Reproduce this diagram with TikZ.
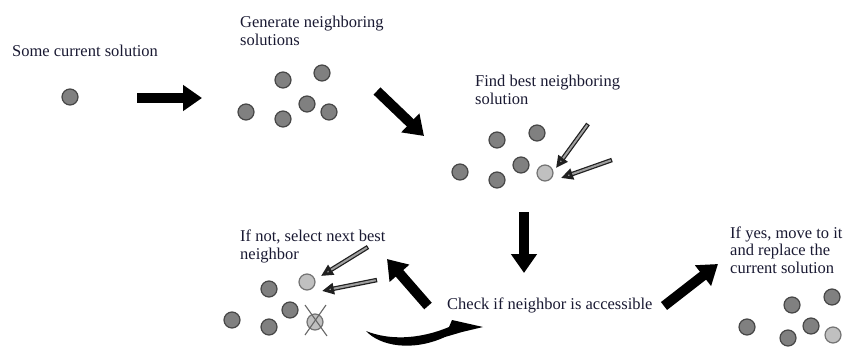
\documentclass[tikz,border=0pt]{standalone}
\usepackage{fontspec}
\setmainfont{Liberation Serif}
\usetikzlibrary{arrows.meta}
\definecolor{dotfill}{RGB}{128,128,128}
\definecolor{dotedge}{RGB}{70,70,70}
\definecolor{bestfill}{RGB}{192,192,192}
\definecolor{bestedge}{RGB}{115,115,115}
\definecolor{caption}{RGB}{25,25,50}

\begin{document}
\begin{tikzpicture}[x=1pt, y=-1pt,
    sol/.style={circle, fill=dotfill, draw=dotedge, line width=1.2pt,
                minimum size=16pt, inner sep=0pt},
    best/.style={sol, fill=bestfill, draw=bestedge},
    note/.style={anchor=base west, align=left, inner sep=0pt, text=caption,
                 font=\fontsize{16.5}{17.5}\selectfont},
    bigarrow/.style={line width=10pt, -{Triangle[length=19pt, width=25pt]}},
    hintout/.style={draw=gray!25!black, line width=4.5pt,
                    -{Triangle[length=12pt, width=11pt, fill=gray!70]}},
    hintin/.style={draw=gray!75, line width=2pt, shorten >=12pt, shorten <=1.2pt},
    xmark/.style={draw=gray!80!black, line width=1.1pt}]
  \useasboundingbox (0,0) rectangle (845,348);

  % Current solution
  \node[note] (t1) at (12,56) {Some current solution};
  \node[sol] (c0) at (70,97) {};

  % Neighboring solutions
  \node[note] (t2) at (240,45) {Generate neighboring\\solutions};
  \foreach \n/\x/\y in {1/283/80, 2/322/73, 3/246/112, 4/283/119, 5/307/104, 6/329/112}
    \node[sol] (n\n) at (\x,\y) {};

  % Best neighbor
  \node[note] (t3) at (475,104) {Find best neighboring\\solution};
  \foreach \n/\x/\y in {1/497/140, 2/537/133, 3/460/172, 4/497/180, 5/521/165}
    \node[sol] (b\n) at (\x,\y) {};
  \node[best] (bb) at (545,173) {};

  % Next best neighbor
  \node[note] (t4) at (240,259) {If not, select next best\\neighbor};
  \foreach \n/\x/\y in {1/269/289, 2/232/320, 3/269/327, 4/290/310}
    \node[sol] (r\n) at (\x,\y) {};
  \node[best] (nb) at (307,282) {};
  \node[best] (xb) at (315,322) {};
  \draw[xmark] ([shift={(-10,-17)}]xb.center) -- ([shift={(12,14)}]xb.center);
  \draw[xmark] ([shift={(11,-17)}]xb.center) -- ([shift={(-10,13)}]xb.center);

  % Check
  \node[note] (t5) at (447,309) {Check if neighbor is accessible};

  % Move
  \node[note] (t6) at (730,273) {If yes, move to it\\and replace the\\current solution};
  \foreach \n/\x/\y in {1/792/305, 2/832/297, 3/747/327, 4/788/338, 5/811/326}
    \node[sol] (f\n) at (\x,\y) {};
  \node[best] (fb) at (833,335) {};

  % Big arrows
  \coordinate (a1s) at (137,98);  \coordinate (a1e) at (202,98);
  \coordinate (a2s) at (377,91);  \coordinate (a2e) at (424,136);
  \coordinate (a3s) at (524,212); \coordinate (a3e) at (524,273);
  \coordinate (a4s) at (428,306); \coordinate (a4e) at (387,259);
  \coordinate (a5s) at (664,306); \coordinate (a5e) at (718,264);
  \foreach \s/\e in {a1s/a1e, a2s/a2e, a3s/a3e, a4s/a4e, a5s/a5e}
    \draw[bigarrow] (\s) -- (\e);

  % Curved arrow back to the check
  \fill (366,331) .. controls (380,346) and (412,352) .. (445,337)
    -- (462,332) -- (483,327) -- (452,320) -- (449,327)
    .. controls (418,340) and (388,340) .. (366,331) -- cycle;

  % Pointers at the chosen neighbor
  \coordinate (g1s) at (588,124); \coordinate (g1e) at (556,168);
  \coordinate (g2s) at (612,160); \coordinate (g2e) at (561,178);
  \coordinate (g3s) at (368,247); \coordinate (g3e) at (321,276);
  \coordinate (g4s) at (377,280); \coordinate (g4e) at (322,291);
  \foreach \s/\e in {g1s/g1e, g2s/g2e, g3s/g3e, g4s/g4e} {
    \draw[hintout] (\s) -- (\e);
    \draw[hintin] (\s) -- (\e);
  }
\end{tikzpicture}
\end{document}
